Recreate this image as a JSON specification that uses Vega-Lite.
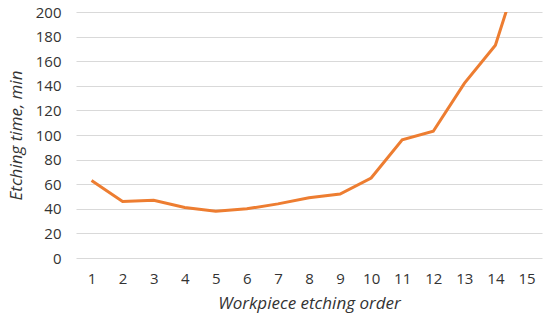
{
  "$schema": "https://vega.github.io/schema/vega-lite/v6.json",
  "width": 466,
  "height": 246,
  "autosize": {"type": "none"},
  "padding": {"left": 76, "top": 12, "right": 8, "bottom": 64},
  "background": "white",
  "config": {
    "view": {"stroke": null},
    "font": "Open Sans"
  },
  "data": {
    "values": [
      {"order": 1, "time": 63},
      {"order": 2, "time": 46},
      {"order": 3, "time": 47},
      {"order": 4, "time": 41},
      {"order": 5, "time": 38},
      {"order": 6, "time": 40},
      {"order": 7, "time": 44},
      {"order": 8, "time": 49},
      {"order": 9, "time": 52},
      {"order": 10, "time": 65},
      {"order": 11, "time": 96},
      {"order": 12, "time": 103},
      {"order": 13, "time": 142},
      {"order": 14, "time": 173},
      {"order": 15, "time": 252}
    ]
  },
  "mark": {"type": "line", "color": "#ED7D31", "strokeWidth": 3, "clip": true},
  "encoding": {
    "x": {
      "field": "order",
      "type": "ordinal",
      "scale": {"type": "point", "padding": 0.5},
      "axis": {
        "title": "Workpiece etching order",
        "titleFont": "Open Sans",
        "titleFontStyle": "italic",
        "titleFontWeight": "normal",
        "titleFontSize": 17,
        "titleColor": "#333333",
        "titlePadding": 9,
        "labelAngle": 0,
        "labelFontSize": 15,
        "labelColor": "#333333",
        "labelPadding": 13,
        "ticks": false,
        "domain": false,
        "grid": false
      }
    },
    "y": {
      "field": "time",
      "type": "quantitative",
      "scale": {"domain": [0, 200], "nice": false},
      "axis": {
        "title": "Etching time, min",
        "titleFont": "Open Sans",
        "titleFontStyle": "italic",
        "titleFontWeight": "normal",
        "titleFontSize": 17,
        "titleColor": "#333333",
        "titlePadding": 10,
        "values": [0, 20, 40, 60, 80, 100, 120, 140, 160, 180, 200],
        "labelFontSize": 15,
        "labelColor": "#333333",
        "labelPadding": 15,
        "ticks": false,
        "domain": false,
        "grid": true,
        "gridColor": "#d9d9d9",
        "gridWidth": 1
      }
    }
  }
}
